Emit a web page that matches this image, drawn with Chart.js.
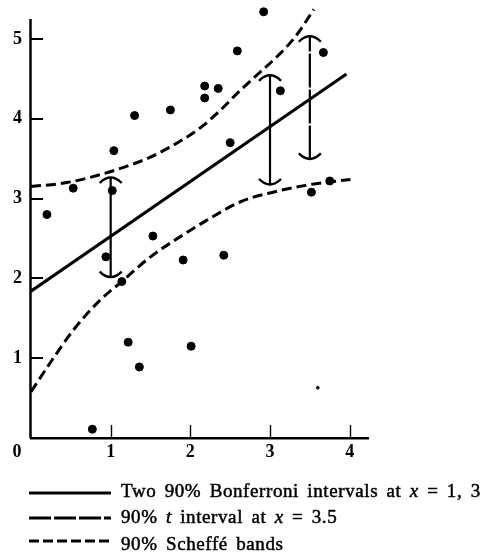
<!DOCTYPE html>
<html>
<head>
<meta charset="utf-8">
<script src="https://cdn.jsdelivr.net/npm/chart.js@4.4.0/dist/chart.umd.min.js"></script>
<style>
  html, body { margin: 0; padding: 0; background: #fff; }
  #wrap { width: 480px; height: 560px; }
</style>
</head>
<body>
<div id="wrap"><canvas id="bandChart"></canvas></div>
<script>
// 観測値
const obsX = [0.20, 0.53, 1.02, 1.04, 1.30, 1.75, 2.18, 2.18, 2.35, 2.59, 2.50, 2.92, 3.67,
              3.13, 3.75, 3.52, 0.94, 1.53, 1.91, 2.42, 1.14, 1.22, 1.36, 2.01, 0.77];
const obsY = [2.80, 3.13, 3.10, 3.60, 4.04, 4.11, 4.41, 4.26, 4.38, 4.85, 3.70, 5.34, 4.83,
              4.35, 3.22, 3.08, 2.27, 2.53, 2.23, 2.29, 1.96, 1.20, 0.89, 1.15, 0.11];
const specX = [3.60];
const specY = [0.63];

// 回帰直線
const fitX = [0, 3.96];
const fitY = [1.84, 4.56];

// Scheffé バンド
const upperX = [0, 0.45, 0.87, 1.16, 1.50, 1.84, 2.13, 2.38, 2.61, 2.86, 3.09, 3.32, 3.55];
const upperY = [3.15, 3.20, 3.30, 3.39, 3.52, 3.70, 3.89, 4.11, 4.34, 4.57, 4.78, 5.03, 5.37];
const lowerX = [0, 0.24, 0.53, 0.87, 1.14, 1.50, 1.87, 2.21, 2.63, 3.04, 3.47, 4.01];
const lowerY = [0.58, 0.94, 1.35, 1.73, 1.96, 2.27, 2.52, 2.73, 2.96, 3.08, 3.17, 3.24];

// 区間 (Bonferroni x=1,3 / t x=3.5)
const bonfX = [1, 3];
const bonfLow = [2.01, 3.17];
const bonfHigh = [3.27, 4.55];
const tX = [3.5];
const tLow = [3.49];
const tHigh = [5.04];

// 目盛り
const xTicks = [0, 1, 2, 3, 4];
const yTicks = [0, 1, 2, 3, 4, 5];
const yAxisEnd = 5.25;

// 凡例
const legendRows = [
    { dash: [], parts: [['Two 90% Bonferroni intervals at ', false], ['x', true], [' = 1, 3', false]] },
    { dash: [22, 3], parts: [['90% ', false], ['t', true], [' interval at ', false], ['x', true], [' = 3.5', false]] },
    { dash: [10, 4], parts: [['90% Scheffé bands', false]] },
];

const toPts = (xs, ys) => xs.map((x, i) => ({ x: x, y: ys[i] }));
const SERIF = '"Liberation Serif", "Times New Roman", serif';

// 区間の縦線
const intervalSets = [];
bonfX.forEach((x, i) => {
    intervalSets.push({
        data: [{ x: x, y: bonfLow[i] }, { x: x, y: bonfHigh[i] }],
        showLine: true, borderColor: '#000', borderWidth: 2.2, pointRadius: 0, capped: true,
    });
});
tX.forEach((x, i) => {
    intervalSets.push({
        data: [{ x: x, y: tLow[i] }, { x: x, y: tHigh[i] }],
        showLine: true, borderColor: '#000', borderWidth: 2.2, borderDash: [34, 2], pointRadius: 0, capped: true,
    });
});

// 縦軸の線、内向きの目盛り、区間の端の弧
const capPlugin = {
    id: 'caps',
    afterDatasetsDraw(chart) {
        const ctx = chart.ctx;
        const xs = chart.scales.x, ys = chart.scales.y;
        const area = chart.chartArea;
        ctx.save();
        ctx.strokeStyle = '#000';
        ctx.setLineDash([]);

        ctx.lineWidth = 2.5;
        ctx.beginPath();
        ctx.moveTo(area.left - 0.5, area.bottom);
        ctx.lineTo(area.left - 0.5, ys.getPixelForValue(yAxisEnd));
        ctx.stroke();

        ctx.lineWidth = 2;
        ys.ticks.forEach(t => {
            if (t.value === 0) return;
            const py = Math.round(ys.getPixelForValue(t.value));
            ctx.beginPath();
            ctx.moveTo(area.left, py);
            ctx.lineTo(area.left + 12, py);
            ctx.stroke();
        });
        ctx.lineWidth = 1.4;
        xs.ticks.forEach(t => {
            if (t.value === 0) return;
            const px = Math.round(xs.getPixelForValue(t.value)) + 0.5;
            ctx.beginPath();
            ctx.moveTo(px, area.bottom);
            ctx.lineTo(px, area.bottom - 13);
            ctx.stroke();
        });

        ctx.lineWidth = 2.4;
        chart.data.datasets.forEach(ds => {
            if (!ds.capped) return;
            const px = xs.getPixelForValue(ds.data[0].x);
            const lo = ys.getPixelForValue(ds.data[0].y);
            const hi = ys.getPixelForValue(ds.data[1].y);
            ctx.beginPath();
            ctx.moveTo(px - 11, hi + 6);
            ctx.quadraticCurveTo(px, hi - 5, px + 11, hi + 6);
            ctx.stroke();
            ctx.beginPath();
            ctx.moveTo(px - 11, lo - 6);
            ctx.quadraticCurveTo(px, lo + 5, px + 11, lo - 6);
            ctx.stroke();
        });
        ctx.restore();
    }
};

// 原点ラベルと凡例
const legendPlugin = {
    id: 'legendRows',
    afterDraw(chart) {
        const ctx = chart.ctx;
        const area = chart.chartArea;
        ctx.save();
        ctx.fillStyle = '#000';
        ctx.font = 'bold 18px ' + SERIF;
        ctx.textAlign = 'center';
        ctx.textBaseline = 'middle';
        ctx.fillText('0', chart.scales.x.getPixelForValue(0) - 14, area.bottom + 14);

        ctx.textAlign = 'left';
        ctx.textBaseline = 'alphabetic';
        ctx.strokeStyle = '#000';
        const lineY = [493, 518, 541];
        const baseY = [497, 523, 550];
        legendRows.forEach((row, r) => {
            ctx.lineWidth = 3;
            ctx.setLineDash(row.dash);
            ctx.beginPath();
            ctx.moveTo(area.left - 2, lineY[r]);
            ctx.lineTo(111, lineY[r]);
            ctx.stroke();
            ctx.setLineDash([]);
            ctx.lineWidth = 0.5;
            let tx = 121;
            row.parts.forEach(([txt, italic]) => {
                ctx.font = (italic ? 'italic ' : '') + '19px ' + SERIF;
                ctx.letterSpacing = '0.6px';
                ctx.wordSpacing = '3px';
                ctx.fillText(txt, tx, baseY[r]);
                ctx.strokeText(txt, tx, baseY[r]);
                tx += ctx.measureText(txt).width;
            });
        });
        ctx.restore();
    }
};

const setTicks = values => scale => {
    scale.ticks = values.map(v => ({ value: v }));
};

const chartContext = document.getElementById('bandChart').getContext('2d');
new Chart(chartContext, {
    type: 'scatter',
    data: {
        datasets: [
            {
                data: toPts(obsX, obsY),
                backgroundColor: '#000', borderColor: '#000', pointRadius: 4, pointHoverRadius: 4,
            },
            {
                data: toPts(specX, specY),
                backgroundColor: '#000', borderColor: '#000', pointRadius: 1.4,
            },
            {
                data: toPts(fitX, fitY),
                showLine: true, borderColor: '#000', borderWidth: 3, pointRadius: 0,
            },
            {
                data: toPts(upperX, upperY), clip: false,
                showLine: true, borderColor: '#000', borderWidth: 3, borderDash: [10, 5],
                pointRadius: 0, cubicInterpolationMode: 'monotone',
            },
            {
                data: toPts(lowerX, lowerY),
                showLine: true, borderColor: '#000', borderWidth: 3, borderDash: [10, 5],
                pointRadius: 0, cubicInterpolationMode: 'monotone',
            },
            ...intervalSets,
        ]
    },
    options: {
        responsive: true,
        maintainAspectRatio: false,
        animation: false,
        layout: { padding: { top: 7, right: 112, bottom: 90, left: 0 } },
        plugins: {
            legend: { display: false },
            tooltip: { enabled: false },
        },
        scales: {
            x: {
                type: 'linear',
                min: 0,
                max: 4.23,
                afterBuildTicks: setTicks(xTicks),
                afterFit: s => { s.height = 32; s.paddingLeft = 0; s.paddingRight = 0; },
                border: { color: '#000', width: 2.5 },
                grid: { display: false, drawTicks: false },
                ticks: {
                    padding: 4,
                    color: '#000',
                    font: { family: SERIF, size: 18, weight: 'bold' },
                    callback: v => (v === 0 ? '' : v),
                },
            },
            y: {
                min: 0,
                max: 5.4,
                afterBuildTicks: setTicks(yTicks),
                afterFit: s => { s.width = 31; s.paddingTop = 0; s.paddingBottom = 0; },
                border: { display: false },
                grid: { display: false, drawTicks: false },
                ticks: {
                    padding: 9,
                    color: '#000',
                    font: { family: SERIF, size: 18, weight: 'bold' },
                    callback: v => (v === 0 ? '' : v),
                },
            },
        },
    },
    plugins: [capPlugin, legendPlugin],
});
</script>
</body>
</html>
